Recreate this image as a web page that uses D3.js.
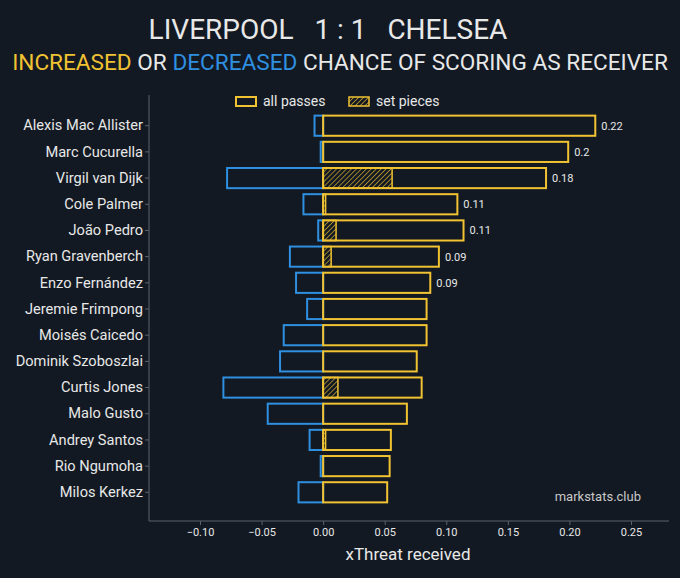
<!DOCTYPE html>
<html>
<head>
<meta charset="utf-8">
<script src="https://cdn.jsdelivr.net/npm/d3@7"></script>
<style>
  body { margin: 0; background: #121922; }
  svg { display: block; font-family: Roboto, sans-serif; }
</style>
</head>
<body>
<script>
const players = ["Alexis Mac Allister", "Marc Cucurella", "Virgil van Dijk", "Cole Palmer", "João Pedro",
  "Ryan Gravenberch", "Enzo Fernández", "Jeremie Frimpong", "Moisés Caicedo", "Dominik Szoboszlai",
  "Curtis Jones", "Malo Gusto", "Andrey Santos", "Rio Ngumoha", "Milos Kerkez"];
const increased = [0.221, 0.199, 0.181, 0.109, 0.114, 0.094, 0.087, 0.084, 0.084, 0.076, 0.080, 0.068, 0.055, 0.054, 0.052];
const decreased = [-0.007, -0.002, -0.078, -0.016, -0.004, -0.027, -0.022, -0.013, -0.032, -0.035, -0.081, -0.045, -0.011, -0.002, -0.020];
const setPieces = [0, 0, 0.056, 0.002, 0.0105, 0.0065, 0, 0, 0, 0, 0.012, 0, 0.002, 0, 0];
const valueLabels = ["0.22", "0.2", "0.18", "0.11", "0.11", "0.09", "0.09", null, null, null, null, null, null, null, null];
const xTicks = [-0.10, -0.05, 0.00, 0.05, 0.10, 0.15, 0.20, 0.25];

const W = 680, H = 578;
const gold = "#f1c232", blue = "#2f8fe0", bg = "#121922", txt = "#e8e8e8";

const svg = d3.select("body").append("svg").attr("width", W).attr("height", H);

const defs = svg.append("defs");
const pat = defs.append("pattern").attr("id", "hatch").attr("patternUnits", "userSpaceOnUse")
  .attr("width", 3.5).attr("height", 3.5).attr("patternTransform", "rotate(45)");
pat.append("rect").attr("width", 3.5).attr("height", 3.5).attr("fill", bg);
pat.append("line").attr("x1", 0).attr("y1", 0).attr("x2", 0).attr("y2", 3.5)
  .attr("stroke", gold).attr("stroke-width", 1.2);

// Title
svg.append("text").attr("x", 328).attr("y", 39).attr("text-anchor", "middle")
  .attr("fill", txt).attr("font-size", 28).attr("xml:space", "preserve")
  .text("LIVERPOOL   1 : 1   CHELSEA");
const sub = svg.append("text").attr("x", 340).attr("y", 70).attr("text-anchor", "middle")
  .attr("font-size", 22.6).attr("fill", txt);
sub.append("tspan").attr("fill", gold).text("INCREASED");
sub.append("tspan").text(" OR ");
sub.append("tspan").attr("fill", blue).text("DECREASED");
sub.append("tspan").text(" CHANCE OF SCORING AS RECEIVER");

// Scales
const x = d3.scaleLinear().domain([-0.1, 0.25]).range([200, 631]);
const y = d3.scaleBand().domain(players).range([113, 505]).paddingInner(0.23).paddingOuter(0.1);
const axisY = 521;

// Axes
const xAxis = svg.append("g").attr("transform", `translate(0,${axisY})`)
  .call(d3.axisBottom(x).tickValues(xTicks).tickFormat(d3.format(".2f")).tickSize(4).tickSizeOuter(0));
xAxis.select(".domain").attr("d", `M149,0H669`);
const yAxis = svg.append("g").attr("transform", "translate(149,0)")
  .call(d3.axisLeft(y).tickSize(4).tickSizeOuter(0));
yAxis.select(".domain").attr("d", `M0,95V${axisY}`);
[xAxis, yAxis].forEach(a => {
  a.attr("font-family", "Roboto, sans-serif");
  a.selectAll(".domain, line").attr("stroke", "#5c636b");
  a.selectAll("text").attr("fill", txt);
});
xAxis.attr("font-size", 11);
yAxis.attr("font-size", 14.6);
yAxis.selectAll("text").attr("dx", 1);

svg.append("text").attr("x", 408).attr("y", 560).attr("text-anchor", "middle")
  .attr("fill", txt).attr("font-size", 17).text("xThreat received");

// Bars
const rows = svg.append("g");
rows.selectAll(".neg").data(players).join("rect")
  .attr("x", (d, i) => x(decreased[i])).attr("y", d => y(d))
  .attr("width", (d, i) => x(0) - x(decreased[i])).attr("height", y.bandwidth())
  .attr("fill", "none").attr("stroke", blue).attr("stroke-width", 2);
rows.selectAll(".sp").data(players).join("rect")
  .attr("x", x(0)).attr("y", d => y(d))
  .attr("width", (d, i) => x(setPieces[i]) - x(0)).attr("height", y.bandwidth())
  .attr("fill", "url(#hatch)").attr("stroke", gold).attr("stroke-width", 1.5);
rows.selectAll(".pos").data(players).join("rect")
  .attr("x", x(0)).attr("y", d => y(d))
  .attr("width", (d, i) => x(increased[i]) - x(0)).attr("height", y.bandwidth())
  .attr("fill", "none").attr("stroke", gold).attr("stroke-width", 2);
rows.selectAll(".lbl").data(players).join("text")
  .attr("x", (d, i) => x(increased[i]) + 6).attr("y", d => y(d) + y.bandwidth() / 2 + 4)
  .attr("fill", txt).attr("font-size", 11)
  .text((d, i) => valueLabels[i] || "");

// Legend
const lg = svg.append("g").attr("font-size", 14).attr("fill", txt);
lg.append("rect").attr("x", 236).attr("y", 97).attr("width", 20).attr("height", 9)
  .attr("fill", "none").attr("stroke", gold).attr("stroke-width", 2);
lg.append("text").attr("x", 263).attr("y", 106).text("all passes");
lg.append("rect").attr("x", 349).attr("y", 97).attr("width", 20).attr("height", 9)
  .attr("fill", "url(#hatch)").attr("stroke", gold).attr("stroke-width", 1.5);
lg.append("text").attr("x", 376).attr("y", 106).text("set pieces");

svg.append("text").attr("x", 641).attr("y", 501).attr("text-anchor", "end")
  .attr("fill", "#c8c8c8").attr("font-size", 13).text("markstats.club");
</script>
</body>
</html>
